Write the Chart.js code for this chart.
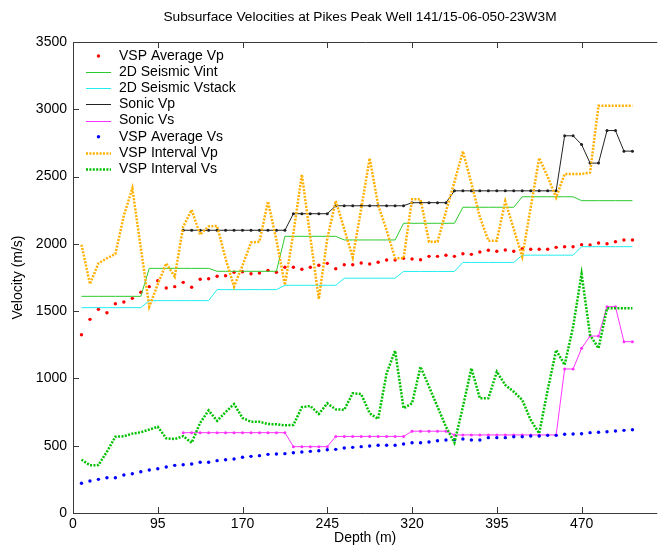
<!DOCTYPE html>
<html><head><meta charset="utf-8">
<script src="https://cdn.jsdelivr.net/npm/chart.js@4/dist/chart.umd.min.js"></script>
<style>html,body{margin:0;padding:0;background:#fff;}#c{display:block;}</style>
</head><body>
<canvas id="c" width="659" height="553"></canvas>
<script>
const titleText = 'Subsurface Velocities at Pikes Peak Well 141/15-06-050-23W3M';
const xTitle = 'Depth (m)';
const yTitle = 'Velocity (m/s)';
const xTickValues = [20, 95, 170, 245, 320, 395, 470];
const xTickLabels = ['0', '95', '170', '245', '320', '395', '470'];
const yTickValues = [0, 500, 1000, 1500, 2000, 2500, 3000, 3500];
const yTickLabels = ['0', '500', '1000', '1500', '2000', '2500', '3000', '3500'];

const depths = [27.5, 35, 42.5, 50, 57.5, 65, 72.5, 80, 87.5, 95,
  102.5, 110, 117.5, 125, 132.5, 140, 147.5, 155, 162.5, 170,
  177.5, 185, 192.5, 200, 207.5, 215, 222.5, 230, 237.5, 245,
  252.5, 260, 267.5, 275, 282.5, 290, 297.5, 305, 312.5, 320,
  327.5, 335, 342.5, 350, 357.5, 365, 372.5, 380, 387.5, 395,
  402.5, 410, 417.5, 425, 432.5, 440, 447.5, 455, 462.5, 470,
  477.5, 485, 492.5, 500, 507.5, 515];

const vspAvgVp = [1325, 1439, 1514, 1488, 1555, 1568, 1595, 1640, 1682, 1726,
  1672, 1682, 1714, 1677, 1737, 1741, 1759, 1763, 1789, 1793,
  1778, 1783, 1803, 1789, 1826, 1826, 1811, 1826, 1841, 1855,
  1815, 1845, 1845, 1858, 1850, 1863, 1880, 1880, 1893, 1888,
  1882, 1907, 1907, 1915, 1907, 1927, 1922, 1939, 1952, 1945,
  1954, 1945, 1964, 1960, 1960, 1960, 1974, 1979, 1979, 1994,
  1992, 2006, 2001, 2016, 2029, 2029];

const seisVint = [1610, 1610, 1610, 1610, 1610, 1610, 1610, 1610,
  1818, 1818, 1818, 1818, 1818, 1818, 1818, 1818,
  1796, 1796, 1796, 1796, 1796, 1796, 1796, 1796,
  2056, 2056, 2056, 2056, 2056, 2056, 2056,
  2029, 2029, 2029, 2029, 2029, 2029, 2029,
  2153, 2153, 2153, 2153, 2153, 2153, 2153,
  2272, 2272, 2272, 2272, 2272, 2272, 2272,
  2350, 2350, 2350, 2350, 2350, 2350, 2350,
  2321, 2321, 2321, 2321, 2321, 2321, 2321];

const seisVstack = [1526, 1526, 1526, 1526, 1526, 1526, 1526, 1526,
  1578, 1578, 1578, 1578, 1578, 1578, 1578, 1578,
  1660, 1660, 1660, 1660, 1660, 1660, 1660, 1660,
  1692, 1692, 1692, 1692, 1692, 1692, 1692,
  1745, 1745, 1745, 1745, 1745, 1745, 1745,
  1795, 1795, 1795, 1795, 1795, 1795, 1795,
  1862, 1862, 1862, 1862, 1862, 1862, 1862,
  1916, 1916, 1916, 1916, 1916, 1916, 1916,
  1979, 1979, 1979, 1979, 1979, 1979, 1979];

const sonicVp = [null, null, null, null, null, null, null, null, null, null, null, null,
  2101, 2101, 2101, 2101, 2101, 2101, 2101, 2101, 2101, 2101, 2101, 2101, 2101,
  2224, 2224, 2224, 2224, 2224,
  2283, 2283, 2283, 2283, 2283, 2283, 2283, 2283, 2283,
  2306, 2306, 2306, 2306, 2306,
  2394, 2394, 2394, 2394, 2394, 2394, 2394, 2394, 2394, 2394, 2394, 2394, 2394,
  2803, 2803, 2738, 2600, 2600, 2842, 2842, 2689, 2689];

const sonicVs = [null, null, null, null, null, null, null, null, null, null, null, null,
  597, 597, 597, 597, 597, 597, 597, 597, 597, 597, 597, 597, 597,
  493, 493, 493, 493, 493,
  569, 569, 569, 569, 569, 569, 569, 569, 569,
  608, 608, 608, 608, 608,
  580, 580, 580, 580, 580, 580, 580, 580, 580, 580, 580, 580, 580,
  1070, 1070, 1224, 1315, 1315, 1533, 1533, 1273, 1273];

const vspAvgVs = [221, 238, 250, 262, 262, 282, 292, 307, 320, 329,
  342, 354, 359, 364, 377, 377, 389, 396, 401, 414,
  421, 426, 436, 438, 441, 448, 453, 458, 463, 470,
  473, 483, 488, 493, 498, 503, 503, 503, 513, 522,
  522, 528, 537, 542, 545, 550, 542, 542, 560, 560,
  560, 567, 567, 572, 572, 577, 577, 585, 587, 589,
  597, 600, 604, 609, 614, 619];

const vspIntVp = [1994, 1702, 1855, 1893, 1925, 2210, 2413, 1970, 1533, 1700,
  1855, 1756, 2128, 2252, 2068, 2130, 2133, 1890, 1682, 1840,
  2010, 2016, 2315, 2029, 1694, 2080, 2515, 2050, 1590, 2040,
  2320, 2110, 1900, 2260, 2636, 2289, 2100, 1893, 1893, 2331,
  2331, 2016, 2016, 2240, 2460, 2688, 2450, 2200, 2024, 2024,
  2317, 2110, 1905, 2270, 2638, 2499, 2345, 2519, 2519, 2519,
  2530, 3027, 3027, 3027, 3027, 3027];

const vspIntVs = [396, 355, 356, 455, 567, 570, 590, 600, 620, 641,
  555, 549, 571, 522, 670, 762, 685, 750, 810, 706,
  678, 678, 661, 659, 652, 654, 786, 795, 736, 815,
  770, 767, 890, 884, 741, 699, 1038, 1206, 778, 815,
  1087, 939, 790, 641, 522, 790, 1075, 852, 852, 1050,
  951, 901, 840, 691, 592, 914, 1211, 1100, 1384, 1776,
  1323, 1224, 1521, 1521, 1521, 1521];

const FONT = "'Liberation Sans', Arial, Helvetica, sans-serif";

function pts(vals) {
  return depths.map((d, i) => ({x: d, y: vals[i]}));
}

const seriesDefs = [
  {label: 'VSP Average Vp', vals: vspAvgVp, color: '#ff0000', marker: true},
  {label: '2D Seismic Vint', vals: seisVint, color: '#2ccb2c', width: 1},
  {label: '2D Seismic Vstack', vals: seisVstack, color: '#20eeee', width: 1},
  {label: 'Sonic Vp', vals: sonicVp, color: '#222222', width: 1, pts: 1.5},
  {label: 'Sonic Vs', vals: sonicVs, color: '#ff33ff', width: 1, pts: 1.5},
  {label: 'VSP Average Vs', vals: vspAvgVs, color: '#0000ff', marker: true},
  {label: 'VSP Interval Vp', vals: vspIntVp, color: '#ffb000', width: 2.5, dash: [2, 1.4]},
  {label: 'VSP Interval Vs', vals: vspIntVs, color: '#00c000', width: 2.5, dash: [2, 1.4]}
];

const datasets = seriesDefs.map((s, k) => ({
  label: s.label,
  data: pts(s.vals),
  order: seriesDefs.length - k,
  showLine: !s.marker,
  borderColor: s.color,
  backgroundColor: s.color,
  borderWidth: s.marker ? 0 : s.width,
  borderDash: s.dash || [],
  borderCapStyle: 'butt',
  pointRadius: s.marker ? 1.7 : (s.pts || 0),
  pointBorderWidth: 0,
  pointBackgroundColor: s.color,
  pointHoverRadius: 0,
  tension: 0,
  spanGaps: false
}));

const matlabPlugin = {
  id: 'matlabAxes',
  afterDraw(chart) {
    const {ctx, chartArea: a, scales: {x, y}} = chart;
    ctx.save();
    ctx.strokeStyle = '#3a3a3a';
    ctx.lineWidth = 1;
    ctx.setLineDash([]);
    ctx.beginPath();
    ctx.moveTo(a.left + 0.5, a.top + 0.5); ctx.lineTo(a.right, a.top + 0.5);
    ctx.moveTo(a.left + 0.5, a.top); ctx.lineTo(a.left + 0.5, a.bottom + 0.5);
    ctx.moveTo(a.left, a.bottom + 0.5); ctx.lineTo(a.right, a.bottom + 0.5);
    x.ticks.forEach(t => {
      const px = Math.round(x.getPixelForValue(t.value)) + 0.5;
      ctx.moveTo(px, a.bottom); ctx.lineTo(px, a.bottom - 6);
      ctx.moveTo(px, a.top); ctx.lineTo(px, a.top + 6);
    });
    y.ticks.forEach(t => {
      const py = Math.round(y.getPixelForValue(t.value)) + 0.5;
      ctx.moveTo(a.left, py); ctx.lineTo(a.left + 6, py);
    });
    ctx.stroke();

    ctx.fillStyle = '#000';
    ctx.font = '13.7px ' + FONT;
    ctx.textAlign = 'center';
    ctx.textBaseline = 'middle';
    ctx.fillText(titleText, 360, 17);

    ctx.font = '14px ' + FONT;
    ctx.textAlign = 'left';
    chart.data.datasets.forEach((ds, k) => {
      const cy = 56 + 16.15 * k;
      if (ds.showLine === false) {
        ctx.fillStyle = ds.backgroundColor;
        ctx.beginPath();
        ctx.arc(98.5, cy, 1.7, 0, Math.PI * 2);
        ctx.fill();
      } else {
        ctx.strokeStyle = ds.borderColor;
        ctx.lineWidth = ds.borderWidth;
        ctx.setLineDash(ds.borderDash || []);
        ctx.lineCap = 'butt';
        ctx.beginPath();
        ctx.moveTo(86, Math.round(cy) + 0.5);
        ctx.lineTo(111, Math.round(cy) + 0.5);
        ctx.stroke();
        ctx.setLineDash([]);
      }
      ctx.fillStyle = '#000';
      ctx.fillText(ds.label, 119, cy);
    });
    ctx.restore();
  }
};

new Chart(document.getElementById('c'), {
  type: 'line',
  data: {datasets},
  plugins: [matlabPlugin],
  options: {
    responsive: false,
    animation: false,
    devicePixelRatio: 1,
    events: [],
    layout: {padding: {left: 0, right: 0, top: 42, bottom: 0}},
    plugins: {legend: {display: false}, title: {display: false}, tooltip: {enabled: false}},
    elements: {line: {fill: false}},
    scales: {
      x: {
        type: 'linear',
        min: 20,
        max: 537,
        grid: {display: false, drawTicks: false},
        border: {display: false},
        afterBuildTicks: (s) => { s.ticks = xTickValues.map(v => ({value: v})); },
        afterFit: (s) => { s.height = 40; },
        ticks: {
          autoSkip: false, maxRotation: 0, padding: 3, color: '#000',
          font: {family: FONT, size: 14},
          callback: (v, i) => xTickLabels[i]
        },
        title: {display: true, text: xTitle, color: '#000', font: {family: FONT, size: 14}, padding: {top: 0, bottom: 6}}
      },
      y: {
        type: 'linear',
        min: 0,
        max: 3500,
        grid: {display: false, drawTicks: false},
        border: {display: false},
        afterBuildTicks: (s) => { s.ticks = yTickValues.map(v => ({value: v})); },
        afterFit: (s) => { s.width = 73; },
        ticks: {
          padding: 6, color: '#000', font: {family: FONT, size: 14},
          callback: (v, i) => yTickLabels[i]
        },
        title: {display: true, text: yTitle, color: '#000', font: {family: FONT, size: 14}, padding: {top: 10, bottom: 0}}
      }
    }
  }
});
</script>
</body></html>
